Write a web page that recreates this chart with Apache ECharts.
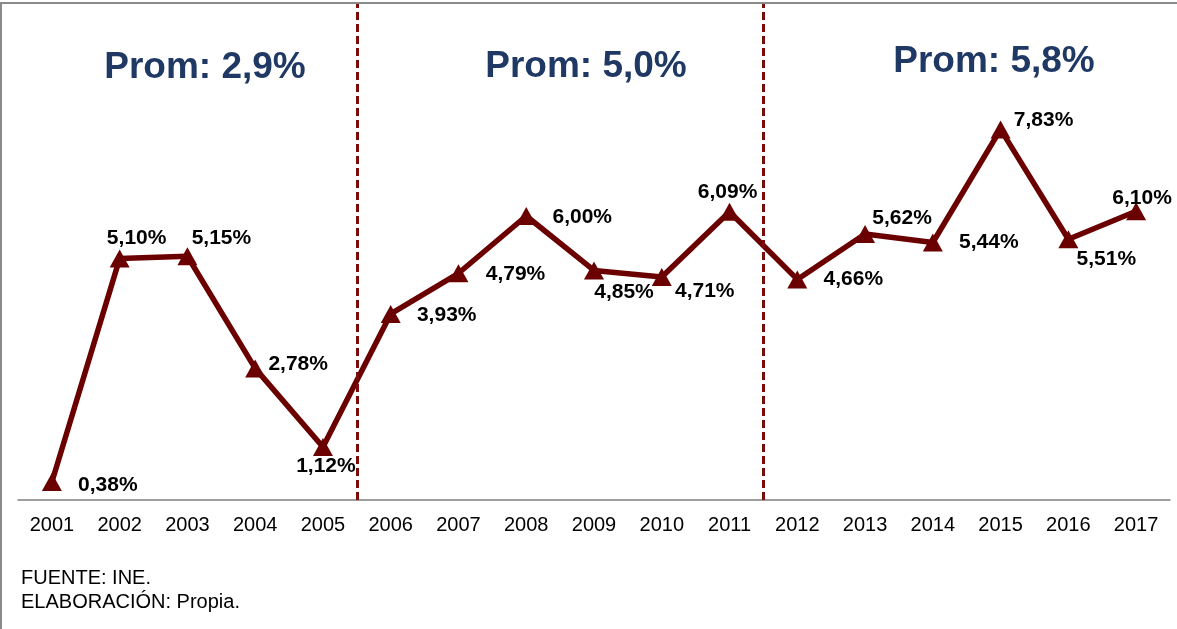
<!DOCTYPE html>
<html>
<head>
<meta charset="utf-8">
<script src="https://cdn.jsdelivr.net/npm/echarts@6/dist/echarts.min.js"></script>
<style>
  html, body { margin: 0; padding: 0; background: #fff; }
  #main { width: 1177px; height: 629px; }
  #frame { position: absolute; left: 0; top: 2px; width: 1177px; height: 627px;
           border-top: 2px solid #8a8a8a; border-left: 2px solid #8a8a8a;
           box-sizing: border-box; pointer-events: none; }
</style>
</head>
<body>
<div id="main"></div>
<div id="frame"></div>
<script>
// datos
var years = ['2001','2002','2003','2004','2005','2006','2007','2008','2009',
             '2010','2011','2012','2013','2014','2015','2016','2017'];
var growth = [0.38, 5.10, 5.15, 2.78, 1.12, 3.93, 4.79, 6.00, 4.85,
              4.71, 6.09, 4.66, 5.62, 5.44, 7.83, 5.51, 6.10];
var periodBreaks = [5, 11];   // years before each dashed divider
var periodTitles = ['Prom: 2,9%', 'Prom: 5,0%', 'Prom: 5,8%'];
var footNotes = ['FUENTE: INE.', 'ELABORACIÓN: Propia.'];

// label offsets from the marker (px), styling only
var labelOffsets = [[56,3],[17,-20],[34,-18],[43,-4],[3,19],[56,1],[57,1],[56,1],[30,22],
                    [43,14],[-2,-20],[56,0],[37,-16],[56,0],[43,-9],[38,20],[6,-13]];
var titlePos = [[205,68],[586,67],[994,62]];

var FONT = '"Liberation Sans", Arial, sans-serif';
var RED = '#6b0000';

var myChart = echarts.init(document.getElementById('main'));

var seriesData = growth.map(function (v, i) {
  return {
    value: v,
    label: { offset: labelOffsets[i] }
  };
});

var graphics = periodTitles.map(function (t, i) {
  return {
    type: 'text', x: titlePos[i][0], y: titlePos[i][1], silent: true,
    style: { text: t, fill: '#1f3864', font: 'bold 37px ' + FONT, align: 'center', verticalAlign: 'middle' }
  };
});
footNotes.forEach(function (t, i) {
  graphics.push({
    type: 'text', x: 21, y: 578 + i * 24, silent: true,
    style: { text: t, fill: '#000', font: '20px ' + FONT, verticalAlign: 'middle' }
  });
});

var option = {
  animation: false,
  backgroundColor: '#fff',
  grid: { left: 18, right: 7, top: 3, bottom: 129 },
  xAxis: [
    {
      type: 'category',
      data: years,
      boundaryGap: true,
      axisLine: { lineStyle: { color: '#7f7f7f', width: 1.5 } },
      axisTick: { show: false },
      axisLabel: { color: '#000', fontSize: 20, fontFamily: FONT, margin: 15 },
      splitLine: { show: false }
    },
    {
      type: 'value', min: 0, max: years.length, show: false
    }
  ],
  yAxis: { type: 'value', min: 0, max: 10.5, show: false },
  graphic: graphics,
  series: [
    {
      type: 'line',
      data: seriesData,
      symbol: 'triangle',
      symbolSize: [20, 18],
      itemStyle: { color: RED },
      lineStyle: { color: RED, width: 5.5 },
      label: {
        show: true,
        position: 'inside',
        color: '#000',
        fontSize: 21,
        fontWeight: 'bold',
        fontFamily: FONT,
        formatter: function (p) { return p.value.toFixed(2).replace('.', ',') + '%'; }
      },
      z: 3
    },
    {
      type: 'line',
      xAxisIndex: 1,
      data: [],
      markLine: {
        silent: true,
        symbol: ['none', 'none'],
        label: { show: false },
        lineStyle: { color: '#7a0c0c', width: 3, type: [8, 4] },
        data: periodBreaks.map(function (b) { return { xAxis: b }; })
      }
    }
  ]
};

myChart.setOption(option);
</script>
</body>
</html>
